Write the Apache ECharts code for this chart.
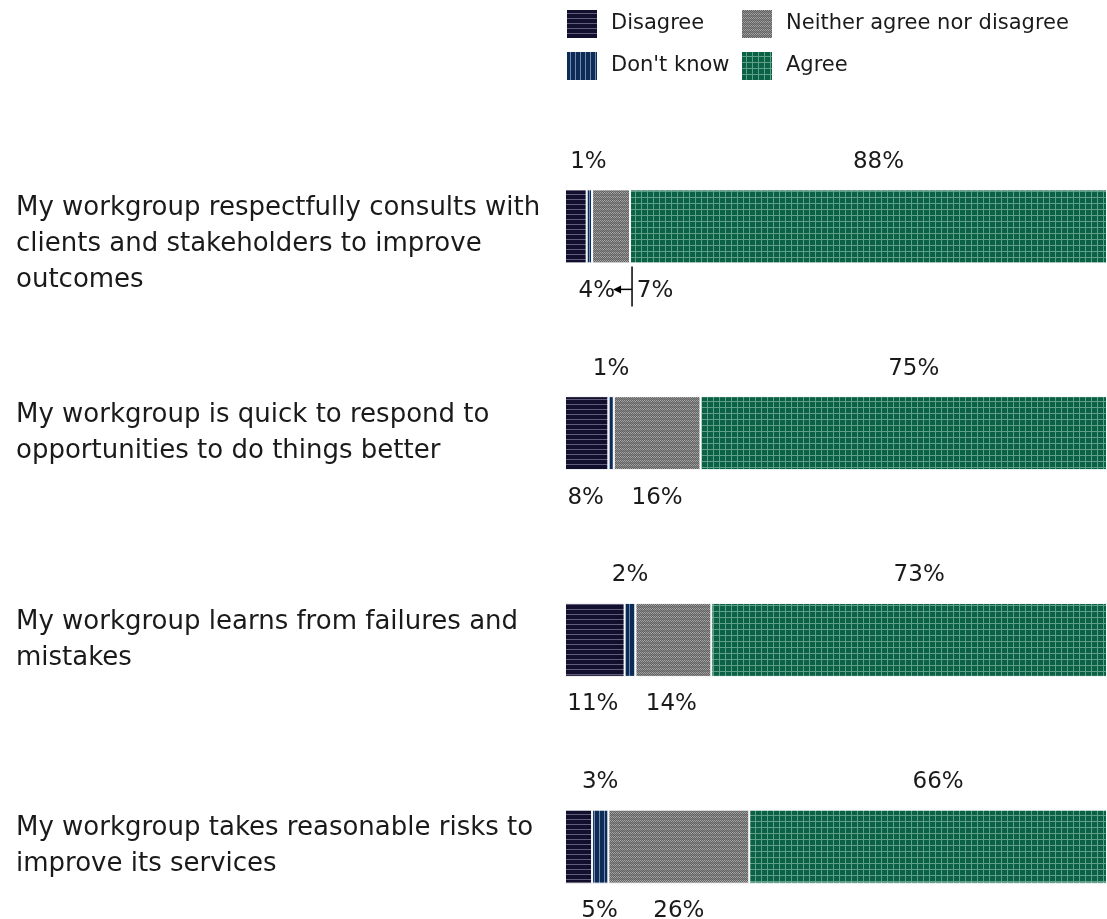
<!DOCTYPE html>
<html><head><meta charset="utf-8">
<script src="https://cdn.jsdelivr.net/npm/echarts@6/dist/echarts.min.js"></script>
<style>html,body{margin:0;padding:0;background:#fff;overflow:hidden}#c{width:1107px;height:950px}</style>
</head><body><div id="c"></div>
<script>
var categories = [
  "My workgroup respectfully consults with clients and stakeholders to improve outcomes",
  "My workgroup is quick to respond to opportunities to do things better",
  "My workgroup learns from failures and mistakes",
  "My workgroup takes reasonable risks to improve its services"
];
var seriesNames = ["Disagree", "Don't know", "Neither agree nor disagree", "Agree"];
var disagree = [4, 8, 11, 5];
var dontKnow = [1, 1, 2, 3];
var neither = [7, 16, 14, 26];
var agree = [88, 75, 73, 66];

function makePattern(kind) {
  var c = document.createElement('canvas');
  var ctx = c.getContext('2d');
  if (kind === 'h') {
    c.width = 6; c.height = 5;
    ctx.fillStyle = '#120f2e'; ctx.fillRect(0,0,6,5);
    ctx.fillStyle = '#5f5d7a'; ctx.fillRect(0,4,6,1);
  } else if (kind === 'v') {
    c.width = 5; c.height = 6;
    ctx.fillStyle = '#0c2b57'; ctx.fillRect(0,0,5,6);
    ctx.fillStyle = '#7288ab'; ctx.fillRect(4,0,1,6);
  } else if (kind === 'z') {
    c.width = 4; c.height = 4;
    ctx.fillStyle = '#646464'; ctx.fillRect(0,0,4,4);
    ctx.fillStyle = '#a4a4a4';
    ctx.fillRect(0,0,1,1); ctx.fillRect(1,1,1,1); ctx.fillRect(2,0,1,1); ctx.fillRect(3,1,1,1);
    ctx.fillStyle = '#858585';
    ctx.fillRect(0,2,1,1); ctx.fillRect(1,3,1,1); ctx.fillRect(2,2,1,1); ctx.fillRect(3,3,1,1);
  } else {
    c.width = 6; c.height = 6;
    ctx.fillStyle = '#0b6146'; ctx.fillRect(0,0,6,6);
    ctx.fillStyle = '#5f9f87'; ctx.fillRect(5,0,1,6); ctx.fillRect(0,5,6,1);
  }
  return {image: c, repeat: 'repeat'};
}
var patterns = [makePattern('h'), makePattern('v'), makePattern('z'), makePattern('g')];
var FONT = 'DejaVu Sans';
var CAT_SIZE = 26;
var labelStyle = {color: '#1a1a1a', fontSize: 23, fontFamily: FONT};

// word wrap helper using canvas text measurement; labels with more than two
// lines keep their first line where a two-line label would start
var measureCtx = document.createElement('canvas').getContext('2d');
function wrapText(text, maxW, size) {
  measureCtx.font = size + 'px "' + FONT + '"';
  var words = text.split(' '), lines = [], cur = '';
  words.forEach(function(w) {
    var t = cur ? cur + ' ' + w : w;
    if (cur && measureCtx.measureText(t).width > maxW) { lines.push(cur); cur = w; }
    else cur = t;
  });
  if (cur) lines.push(cur);
  var lead = '';
  for (var k = 2; k < lines.length; k++) lead += ' \n';
  return lead + lines.join('\n');
}

var chart = echarts.init(document.getElementById('c'));
var values = [disagree, dontKnow, neither, agree];
var labelPos = ['bottom', 'top', 'bottom', 'top'];
var offsets = [
  [[21,0],[-1,0],[-2,0],[21,0]],
  [[-1,0],[0,0],[0,0],[0,0]],
  [[44,0],[0,0],[-2,0],[0,0]],
  [[10,0],[10,0],[10,0],[10,0]]
];
var series = seriesNames.map(function(name, si) {
  return {
    name: name, type: 'bar', stack: 'all', barWidth: 74,
    itemStyle: {color: patterns[si], borderColor: '#fff', borderWidth: 1},
    label: Object.assign({show: true, position: labelPos[si], distance: 16,
      formatter: '{c}%'}, labelStyle),
    data: values[si].map(function(v, i) {
      return {value: v, label: {offset: offsets[si][i]}};
    })
  };
});

var legendText = {fontSize: 21, color: '#1a1a1a', fontFamily: FONT, padding: [0,0,0,8]};
var option = {
  animation: false,
  textStyle: {fontFamily: FONT},
  legend: [
    {left: 565, top: 8, padding: 0, orient: 'vertical', icon: 'rect', itemWidth: 32, itemHeight: 30, itemGap: 10,
     data: [seriesNames[0], seriesNames[1]], textStyle: legendText},
    {left: 740, top: 8, padding: 0, orient: 'vertical', icon: 'rect', itemWidth: 32, itemHeight: 30, itemGap: 10,
     data: [seriesNames[2], seriesNames[3]], textStyle: legendText}
  ],
  grid: {left: 565, top: 123, right: 0, bottom: 0},
  xAxis: {type: 'value', min: 0, max: 100, show: false},
  yAxis: {type: 'category', data: categories, inverse: true,
    axisLine: {show: false}, axisTick: {show: false},
    axisLabel: {align: 'left', margin: 549,
      formatter: function(v) { return wrapText(v, 545, CAT_SIZE); },
      fontSize: CAT_SIZE, lineHeight: 36, color: '#1a1a1a', fontFamily: FONT}},
  series: series
};
chart.setOption(option);

// leader annotation for the first row
var y0 = chart.convertToPixel({gridIndex: 0}, [0, categories[0]])[1];
var xLine = chart.convertToPixel({gridIndex: 0}, [disagree[0] + dontKnow[0] + neither[0], categories[0]])[0] + 2;
var yMid = y0 + 37 + 26;
chart.setOption({graphic: [
  {type: 'line', shape: {x1: xLine, y1: y0 + 40, x2: xLine, y2: y0 + 80}, style: {stroke: '#000', lineWidth: 1.5}},
  {type: 'line', shape: {x1: xLine, y1: yMid, x2: xLine - 14, y2: yMid}, style: {stroke: '#000', lineWidth: 1.5}},
  {type: 'polygon', shape: {points: [[xLine - 19, yMid], [xLine - 11, yMid - 4], [xLine - 11, yMid + 4]]}, style: {fill: '#000'}}
]});
</script></body></html>
